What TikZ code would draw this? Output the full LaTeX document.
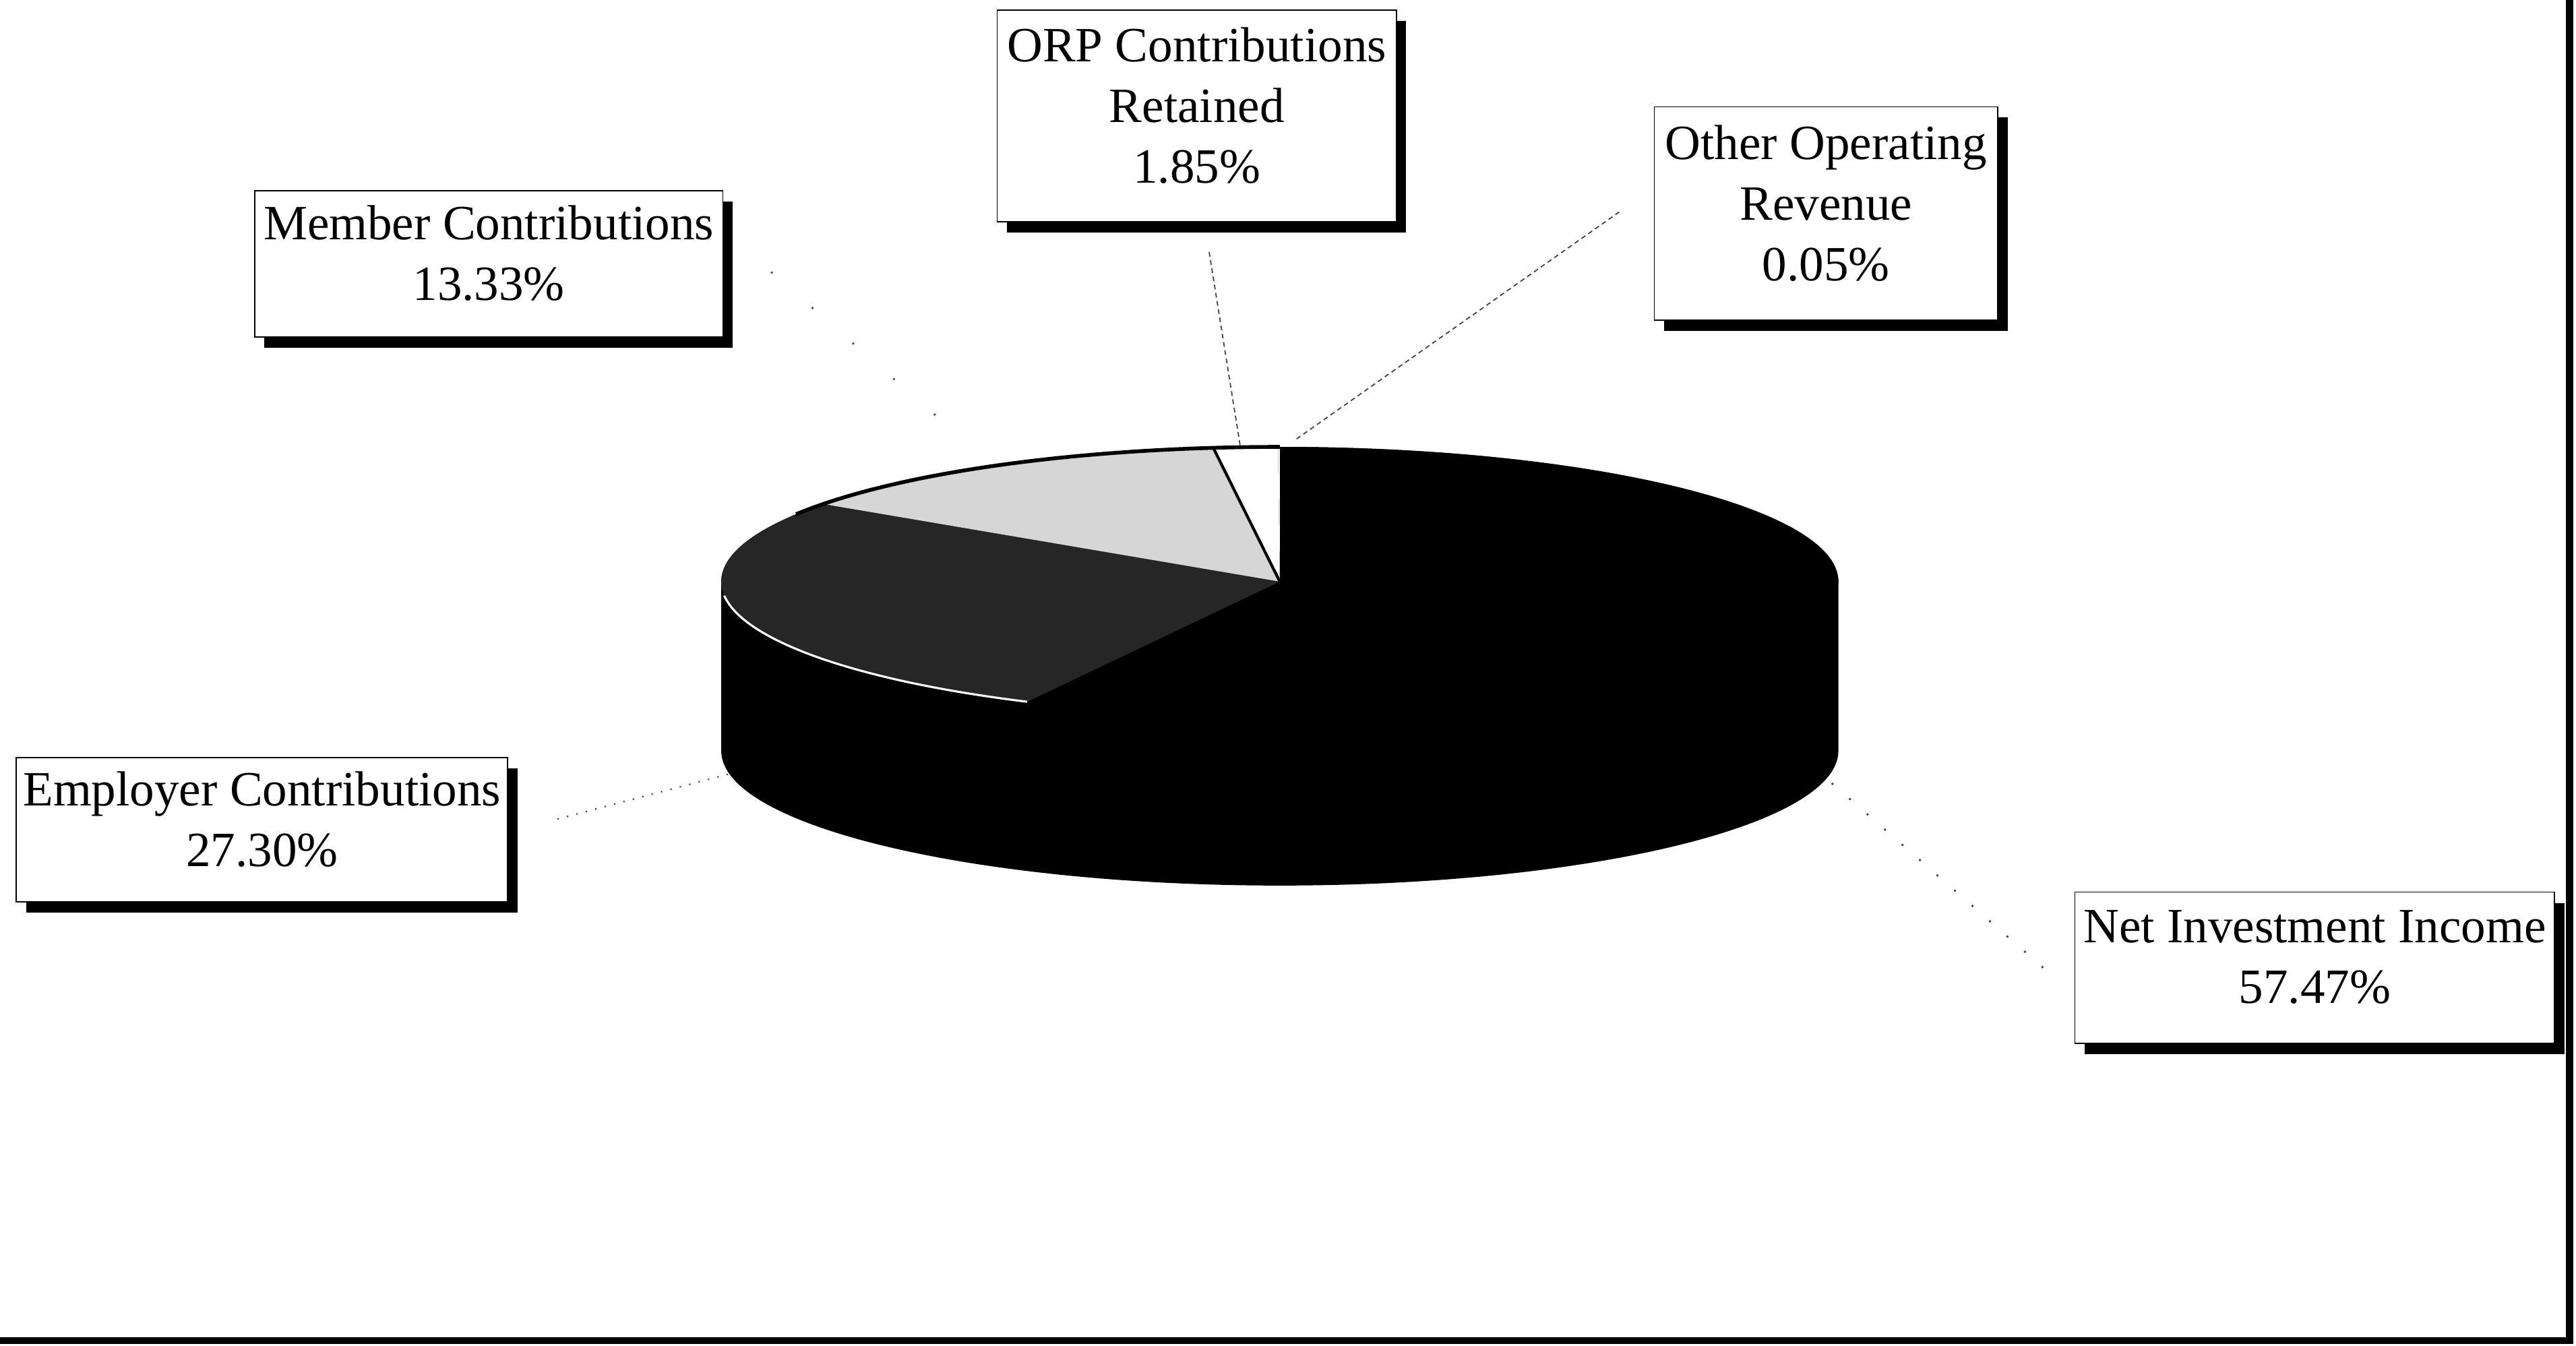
\documentclass[tikz,border=0pt]{standalone}
\usepackage{fontspec}
\setmainfont{Liberation Serif}
\usetikzlibrary{shadows}
\newcommand\labfont{\fontsize{20.8}{25.6}\selectfont}
\newcommand\lift{\rule[-9pt]{0pt}{9pt}}
\definecolor{empgray}{gray}{0.15}
\definecolor{memgray}{gray}{0.84}
\begin{document}
\begin{tikzpicture}[x=0.024375cm,y=-0.024375cm,
  lab/.style={draw=black, line width=0.5pt, fill=white, align=center,
    font=\labfont, inner sep=0pt,
    drop shadow={shadow xshift=0.145cm, shadow yshift=-0.16cm, fill=black, opacity=1}},
  leader/.style={black!75, line width=0.5pt, dash pattern=on 2pt off 1.5pt},
  dotleader/.style={black!75, line width=0.6pt, dash pattern=on 0.6pt off 3.5pt},
  sparse/.style={black!75, line width=0.8pt, dash pattern=on 0.8pt off 9pt},
  verysparse/.style={black!70, line width=0.8pt, dash pattern=on 0.8pt off 22pt},
  frameline/.style={black, line width=3pt},
  pie/.style={x radius=340, y radius=82}]
\useasboundingbox (0,0) rectangle (1568,819);

% ---------- pie ----------
\begin{scope}[shift={(779,354)}, yscale=-1]
  % body of the cylinder (side and top disc, in black)
  \fill[black] (180:340 and 82) -- ++(0,-103)
     arc[pie, start angle=180, end angle=360]
     -- (0:340 and 82)
     arc[pie, start angle=0, end angle=180] -- cycle;
  % Net Investment Income
  \fill[black] (0,0) -- (90:340 and 82)
     arc[pie, start angle=90, end angle=-116.892] -- cycle;
  % Employer Contributions
  \fill[empgray] (0,0) -- (243.108:340 and 82)
     arc[pie, start angle=243.108, end angle=144.828] -- cycle;
  % Member Contributions
  \fill[memgray] (0,0) -- (144.828:340 and 82)
     arc[pie, start angle=144.828, end angle=96.84] -- cycle;
  % ORP Contributions Retained
  \fill[white] (0,0) -- (96.84:340 and 82)
     arc[pie, start angle=96.84, end angle=90.18] -- cycle;
  % Other Operating Revenue
  \fill[white] (0,0) -- (90.18:340 and 82)
     arc[pie, start angle=90.18, end angle=90] -- cycle;
  % outlines
  \draw[black, line width=1.2pt] (0,0) -- (96.84:340 and 82);
  \draw[black, line width=1.6pt] (90:340 and 82)
     arc[pie, start angle=90, end angle=150];
  \draw[white, line width=0.9pt] (186:340 and 82)
     arc[pie, start angle=186, end angle=243.108];
\end{scope}

% ---------- frame ----------
\coordinate (frTR) at (1564,0);
\coordinate (frBR) at (1564,816);
\coordinate (frBL) at (0,816);
\draw[frameline] (frTR) -- (frBR) -- (frBL);

% ---------- labels ----------
\node[lab, minimum width=243*0.024375cm, minimum height=129*0.024375cm]
  (orp) at (728.5,70.5) {ORP Contributions\\Retained\\1.85\%\lift};
\node[lab, minimum width=209*0.024375cm, minimum height=130*0.024375cm]
  (oth) at (1111.5,130) {Other Operating\\Revenue\\0.05\%\lift};
\node[lab, minimum width=285*0.024375cm, minimum height=89*0.024375cm]
  (mem) at (297.5,160.5) {Member Contributions\\13.33\%\lift};
\node[lab, minimum width=299*0.024375cm, minimum height=88*0.024375cm]
  (emp) at (159.5,505) {Employer Contributions\\27.30\%\lift};
\node[lab, minimum width=292*0.024375cm, minimum height=92*0.024375cm]
  (net) at (1409,589) {Net Investment Income\\57.47\%\lift};

% ---------- leader ends on the pie ----------
\coordinate (pORP) at (755,272);
\coordinate (pOth) at (788,268);
\coordinate (pMem) at (580,262);
\coordinate (pEmp) at (448,470);
\coordinate (pNet) at (1113,475);

\draw[leader] ([shift={(7.5,18)}]orp.south) -- (pORP);
\draw[leader] ([shift={(-21,-1)}]oth.west) -- (pOth);
\draw[verysparse] ([shift={(29,5)}]mem.east) -- (pMem);
\draw[dotleader] ([shift={(30,-6.5)}]emp.east) -- (pEmp);
\draw[sparse] ([shift={(-19,0)}]net.west) -- (pNet);
\end{tikzpicture}
\end{document}
